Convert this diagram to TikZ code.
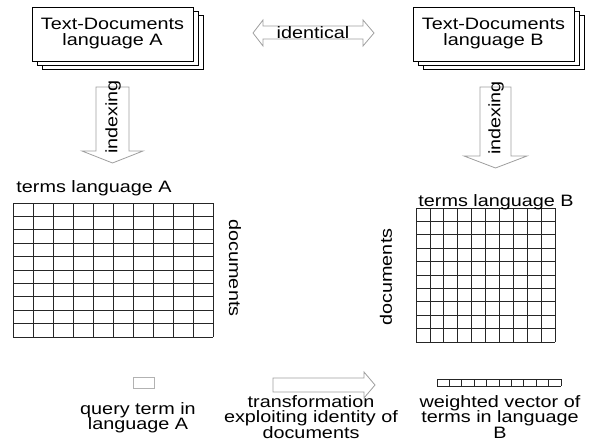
\documentclass[tikz,border=0pt]{standalone}
\usepackage{fontspec}
\setmainfont{Liberation Sans}[FakeStretch=1.2]
\begin{document}
\begin{tikzpicture}[x=1pt,y=-1pt,
  txt/.style={font=\fontsize{16.5}{16}\selectfont, inner sep=0pt, align=center},
  btxt/.style={font=\fontsize{16.5}{15.5}\selectfont, inner sep=0pt, align=center, anchor=north},
  docbox/.style={draw=black, fill=white, line width=0.8pt},
  blockarrow/.style={draw=gray!75, fill=white, line width=0.8pt, line join=miter},
  gridline/.style={draw=black!85, line width=0.7pt}]
\useasboundingbox (0,0) rectangle (596,441);
% ---------- document stacks ----------
\foreach \dx/\dy in {10/8,5/4,0/0}{
  \path[docbox] (32+\dx,7+\dy) rectangle (193+\dx,61+\dy);
  \path[docbox] (413+\dx,7+\dy) rectangle (574+\dx,61+\dy);
}
\node[txt] (docA) at (112.5,34) {Text-Documents\\language A};
\node[txt] (docB) at (493.5,34) {Text-Documents\\language B};
% ---------- identical double arrow ----------
\path[blockarrow] (253,33) -- (263,20) -- (263,26) -- (363,26) -- (363,20) -- (374,33)
  -- (363,46) -- (363,39) -- (263,39) -- (263,46) -- cycle;
\node[txt] (ident) at (313,33) {identical};
% ---------- indexing arrows ----------
\path[blockarrow] (96,87) -- (129,87) -- (129,151) -- (143,151) -- (112.5,163)
  -- (82,151) -- (96,151) -- cycle;
\node[txt, rotate=90] (idxA) at (113,117) {indexing};
\path[blockarrow] (480,87) -- (511,87) -- (511,156) -- (527,156) -- (495.5,168)
  -- (464,156) -- (480,156) -- cycle;
\node[txt, rotate=90] (idxB) at (496,118) {indexing};
% ---------- matrix A ----------
\node[txt] (termsA) at (94,188) {terms language A};
\foreach \i in {0,...,10}{
  \draw[gridline] (13+20*\i,203) -- (13+20*\i,337);
  \draw[gridline] (13,203+13.4*\i) -- (213,203+13.4*\i);
}
\node[txt, rotate=-90] (docsA) at (235,268) {documents};
% ---------- matrix B ----------
\foreach \i in {0,...,10}{
  \draw[gridline] (416+13.9*\i,208) -- (416+13.9*\i,342);
  \draw[gridline] (416,208+13.4*\i) -- (555,208+13.4*\i);
}
\node[txt] (termsB) at (496,202) {terms language B};
\node[txt, rotate=90] (docsB) at (386,277) {documents};
% ---------- bottom row ----------
\node[draw=gray!60, line width=0.8pt, minimum width=21pt, minimum height=11pt, inner sep=0pt] (query) at (143.5,382.5) {};
\node[btxt] (queryT) at (138,402) {query term in\\language A};
\path[blockarrow] (273,378) -- (364,378) -- (364,372) -- (375,385) -- (364,398)
  -- (364,392) -- (273,392) -- cycle;
\node[btxt] (transT) at (311,395) {transformation\\exploiting identity of\\documents};
\foreach \i in {0,...,10}{
  \draw[gridline] (437+12.4*\i,379) -- (437+12.4*\i,386);
}
\draw[gridline] (437,379) -- (561,379);
\draw[gridline] (437,386) -- (561,386);
\node[btxt] (vecT) at (500,395) {weighted vector of\\terms in language\\B};
\end{tikzpicture}
\end{document}
